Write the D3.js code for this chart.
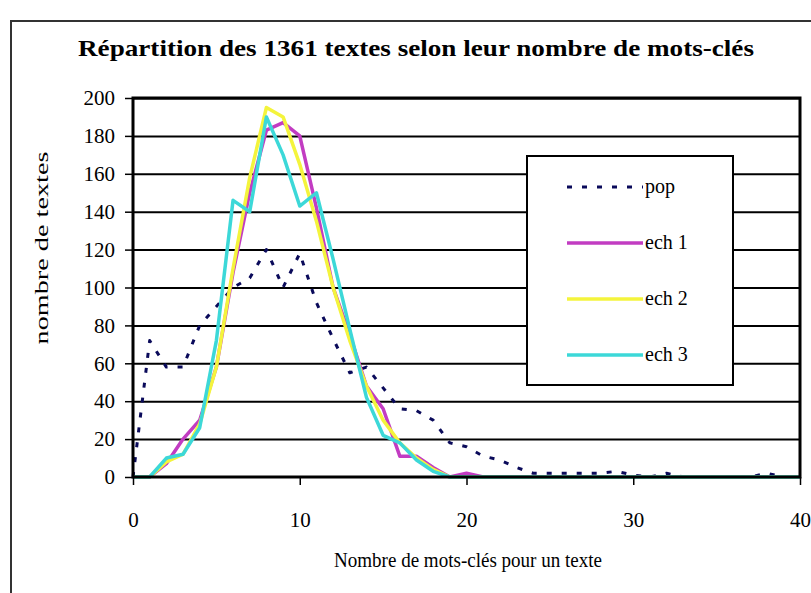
<!DOCTYPE html>
<html><head><meta charset="utf-8">
<script src="https://cdn.jsdelivr.net/npm/d3@7"></script>
<style>body{margin:0;background:#fff}svg{display:block}</style>
</head><body>
<script>
const xs = d3.range(0, 41);
const pop  = [0,72,58,58,80,90,100,105,120,100,118,92,73,55,58,47,36,35,30,18,16,11,9,5,2,2,2,2,2,3,1,0,2,0,0,0,0,0,2,0,0];
const ech1 = [0,0,7,20,30,58,108,150,183,187,180,142,100,75,48,36,11,11,5,0,2,0,0,0,0,0,0,0,0,0,0,0,0,0,0,0,0,0,0,0,0];
const ech2 = [0,0,8,12,28,58,110,158,195,190,165,135,100,72,48,30,18,10,4,0,0,0,0,0,0,0,0,0,0,0,0,0,0,0,0,0,0,0,0,0,0];
const ech3 = [0,0,10,12,26,72,146,140,190,170,143,150,115,78,42,22,18,9,3,0,0,0,0,0,0,0,0,0,0,0,0,0,0,0,0,0,0,0,0,0,0];
const seriesNames = ["pop","ech 1","ech 2","ech 3"];
const seriesColors = ["#0a0a5a","#c23cc2","#f4f43c","#3cd8d8"];
const xTicks = [0,10,20,30,40];
const yTicks = [0,20,40,60,80,100,120,140,160,180,200];
const title = "Répartition des 1361 textes selon leur nombre de mots-clés";
const xTitle = "Nombre de mots-clés pour un texte";
const yTitle = "nombre de textes";

const W = 811, H = 593;
const svg = d3.select("body").append("svg").attr("width", W).attr("height", H);
const font = "'Liberation Serif','Times New Roman',serif";

// outer chart frame
svg.append("rect").attr("x", 11).attr("y", 21).attr("width", 840).attr("height", 620)
  .attr("fill", "#fff").attr("stroke", "#333").attr("stroke-width", 2);

const x = d3.scaleLinear().domain([0, 40]).range([133, 800]);
const y = d3.scaleLinear().domain([0, 200]).range([477, 98]);

// gridlines
svg.append("g").attr("transform", "translate(133,0)")
  .call(d3.axisLeft(y).tickValues(yTicks.slice(1)).tickSize(-(800 - 133)).tickFormat(""))
  .call(g => g.select(".domain").remove())
  .call(g => g.selectAll("line").attr("stroke", "#000").attr("stroke-width", 2));

// series
const line = d3.line().x((d, i) => x(xs[i])).y(d => y(d));
const allSeries = [pop, ech1, ech2, ech3];
allSeries.forEach((s, k) => {
  const p = svg.append("path").datum(s).attr("d", line).attr("fill", "none")
    .attr("stroke", seriesColors[k]).attr("stroke-width", k === 0 ? 3 : 3.5)
    .attr("stroke-linejoin", "round");
  if (k === 0) p.attr("stroke-dasharray", "5,10");
});

// plot border
svg.append("rect").attr("x", 133).attr("y", 98).attr("width", 800 - 133).attr("height", 477 - 98)
  .attr("fill", "none").attr("stroke", "#000").attr("stroke-width", 3);

// axes
const yAxis = svg.append("g").attr("transform", "translate(133,0)")
  .call(d3.axisLeft(y).tickValues(yTicks).tickSize(8).tickPadding(10))
  .call(g => g.select(".domain").remove());
yAxis.selectAll("line").attr("stroke", "#000").attr("stroke-width", 1.5);
yAxis.selectAll("text").attr("font-family", font).attr("font-size", 21).attr("fill", "#000");

const xAxis = svg.append("g").attr("transform", "translate(0,477)")
  .call(d3.axisBottom(x).tickValues(xTicks).tickSize(8).tickPadding(27))
  .call(g => g.select(".domain").remove());
xAxis.selectAll("line").attr("stroke", "#000").attr("stroke-width", 1.5);
xAxis.selectAll("text").attr("font-family", font).attr("font-size", 21).attr("fill", "#000");

// titles
svg.append("text").attr("x", 416).attr("y", 56).attr("text-anchor", "middle")
  .attr("font-family", font).attr("font-weight", "bold").attr("font-size", 23)
  .attr("textLength", 676).attr("lengthAdjust", "spacingAndGlyphs").text(title);
svg.append("text").attr("x", 468).attr("y", 567).attr("text-anchor", "middle")
  .attr("font-family", font).attr("font-size", 21)
  .attr("textLength", 268).attr("lengthAdjust", "spacingAndGlyphs").text(xTitle);
svg.append("text").attr("transform", "translate(48,248) rotate(-90)").attr("text-anchor", "middle")
  .attr("font-family", font).attr("font-size", 18)
  .attr("textLength", 193).attr("lengthAdjust", "spacingAndGlyphs").text(yTitle);

// legend
const lg = svg.append("g");
lg.append("rect").attr("x", 527).attr("y", 156).attr("width", 206).attr("height", 229)
  .attr("fill", "#fff").attr("stroke", "#000").attr("stroke-width", 2);
const legY = [187, 243, 299, 355];
seriesNames.forEach((n, k) => {
  const l = lg.append("line").attr("x1", 567).attr("x2", 643).attr("y1", legY[k]).attr("y2", legY[k])
    .attr("stroke", seriesColors[k]).attr("stroke-width", k === 0 ? 3 : 3.5);
  if (k === 0) l.attr("stroke-dasharray", "5,10");
  lg.append("text").attr("x", 645).attr("y", legY[k] + 6).attr("font-family", font)
    .attr("font-size", 20).attr("fill", "#000").text(n);
});
</script>
</body></html>
